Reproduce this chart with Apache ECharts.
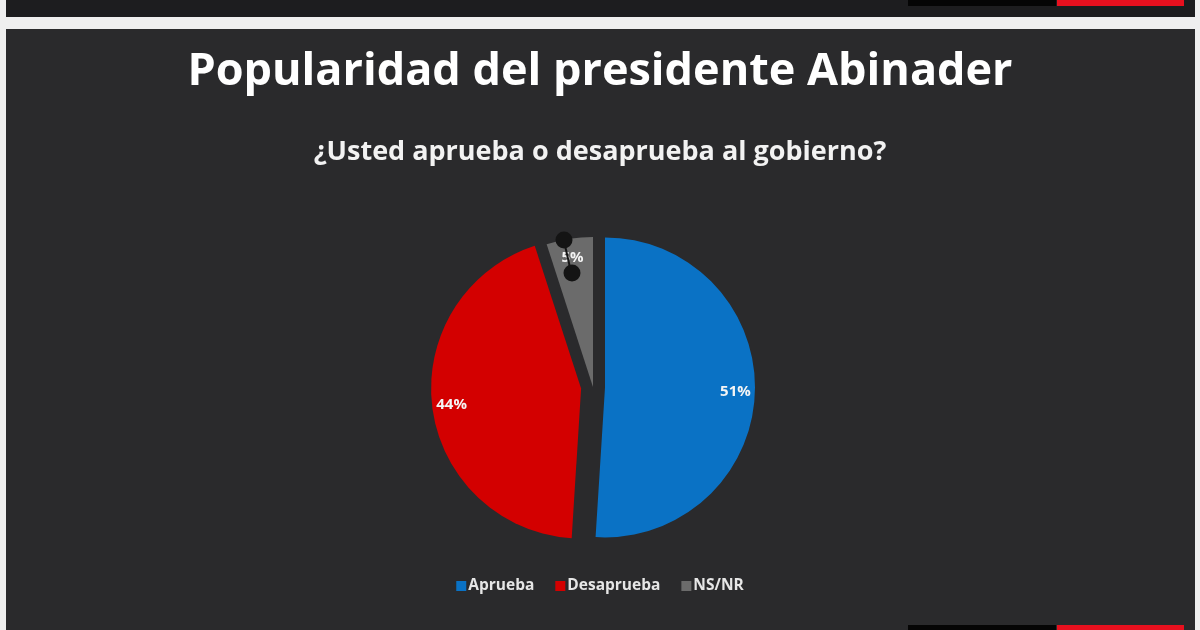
<!DOCTYPE html>
<html>
<head>
<meta charset="utf-8">
<script src="https://cdn.jsdelivr.net/npm/echarts@6/dist/echarts.min.js"></script>
<style>
  html, body { margin: 0; padding: 0; background: #efefef; }
  #chart { width: 1200px; height: 630px; }
</style>
</head>
<body>
<div id="chart"></div>
<script>
// datos de la encuesta
const categorias = ['Aprueba', 'Desaprueba', 'NS/NR'];
const valores = [51, 44, 5];
const colores = ['#0a72c5', '#d30000', '#6b6b6b'];
const separados = [true, true, false];

const chart = echarts.init(document.getElementById('chart'));
const FONT = 'Open Sans';
const CX = 593, CY = 387, R = 150;

const pieData = categorias.map((name, i) => ({
  name: name,
  value: valores[i],
  selected: separados[i],
  itemStyle: { color: colores[i] }
}));

// serie transparente solo para colocar las etiquetas cerca del borde
const labelData = categorias.map((name, i) => ({
  name: name,
  value: valores[i],
  selected: separados[i]
}));

chart.setOption({
  backgroundColor: '#efefef',
  animation: false,
  graphic: [
    { type: 'rect', shape: { x: 6, y: 0, width: 1189, height: 17 }, style: { fill: '#1d1d1f' }, z: -10 },
    { type: 'rect', shape: { x: 908, y: 0, width: 148, height: 6 }, style: { fill: '#050505' }, z: -9 },
    { type: 'rect', shape: { x: 1057, y: 0, width: 127, height: 6 }, style: { fill: '#e8101e' }, z: -9 },
    { type: 'rect', shape: { x: 6, y: 29, width: 1189, height: 601 }, style: { fill: '#2a2a2c' }, z: -10 },
    { type: 'rect', shape: { x: 908, y: 625, width: 148, height: 5 }, style: { fill: '#050505' }, z: -9 },
    { type: 'rect', shape: { x: 1057, y: 625, width: 127, height: 5 }, style: { fill: '#e8101e' }, z: -9 },
    // restos de la línea guía de la etiqueta pequeña
    { type: 'line', shape: { x1: 564, y1: 241, x2: 571, y2: 272 }, style: { stroke: '#141414', lineWidth: 2 }, z: 100 },
    { type: 'circle', shape: { cx: 564, cy: 240, r: 8.5 }, style: { fill: '#141414' }, z: 100 },
    { type: 'circle', shape: { cx: 572, cy: 273, r: 8.5 }, style: { fill: '#141414' }, z: 100 }
  ],
  title: [
    {
      text: 'Popularidad del presidente Abinader',
      left: 'center',
      top: 45,
      textStyle: { color: '#ffffff', fontSize: 45, fontWeight: 'bold', fontFamily: FONT }
    },
    {
      text: '¿Usted aprueba o desaprueba al gobierno?',
      left: 'center',
      top: 134,
      textStyle: { color: '#f2f2f2', fontSize: 27, fontWeight: 'bold', fontFamily: FONT }
    }
  ],
  legend: {
    data: categorias,
    bottom: 31,
    left: 'center',
    icon: 'rect',
    itemWidth: 10,
    itemHeight: 10,
    itemGap: 21,
    selectedMode: false,
    textStyle: { color: '#e6e6e6', fontSize: 15.5, fontWeight: 'bold', fontFamily: FONT, padding: [0, 0, 0, -3] }
  },
  series: [
    {
      type: 'pie',
      center: [CX, CY],
      radius: [0, R],
      startAngle: 90,
      clockwise: true,
      selectedMode: 'multiple',
      selectedOffset: 12,
      silent: true,
      label: { show: false },
      labelLine: { show: false },
      select: { itemStyle: { borderWidth: 0 } },
      data: pieData
    },
    {
      type: 'pie',
      center: [CX, CY],
      radius: [R * 0.7, R],
      startAngle: 90,
      clockwise: true,
      selectedMode: 'multiple',
      selectedOffset: 12,
      silent: true,
      z: 3,
      itemStyle: { color: 'rgba(0,0,0,0)' },
      select: { itemStyle: { color: 'rgba(0,0,0,0)' } },
      label: {
        show: true,
        position: 'inside',
        formatter: '{c}%',
        color: '#f4f4f4',
        fontSize: 15,
        fontWeight: 'bold',
        fontFamily: FONT
      },
      labelLine: { show: false },
      data: labelData
    }
  ]
});
</script>
</body>
</html>
